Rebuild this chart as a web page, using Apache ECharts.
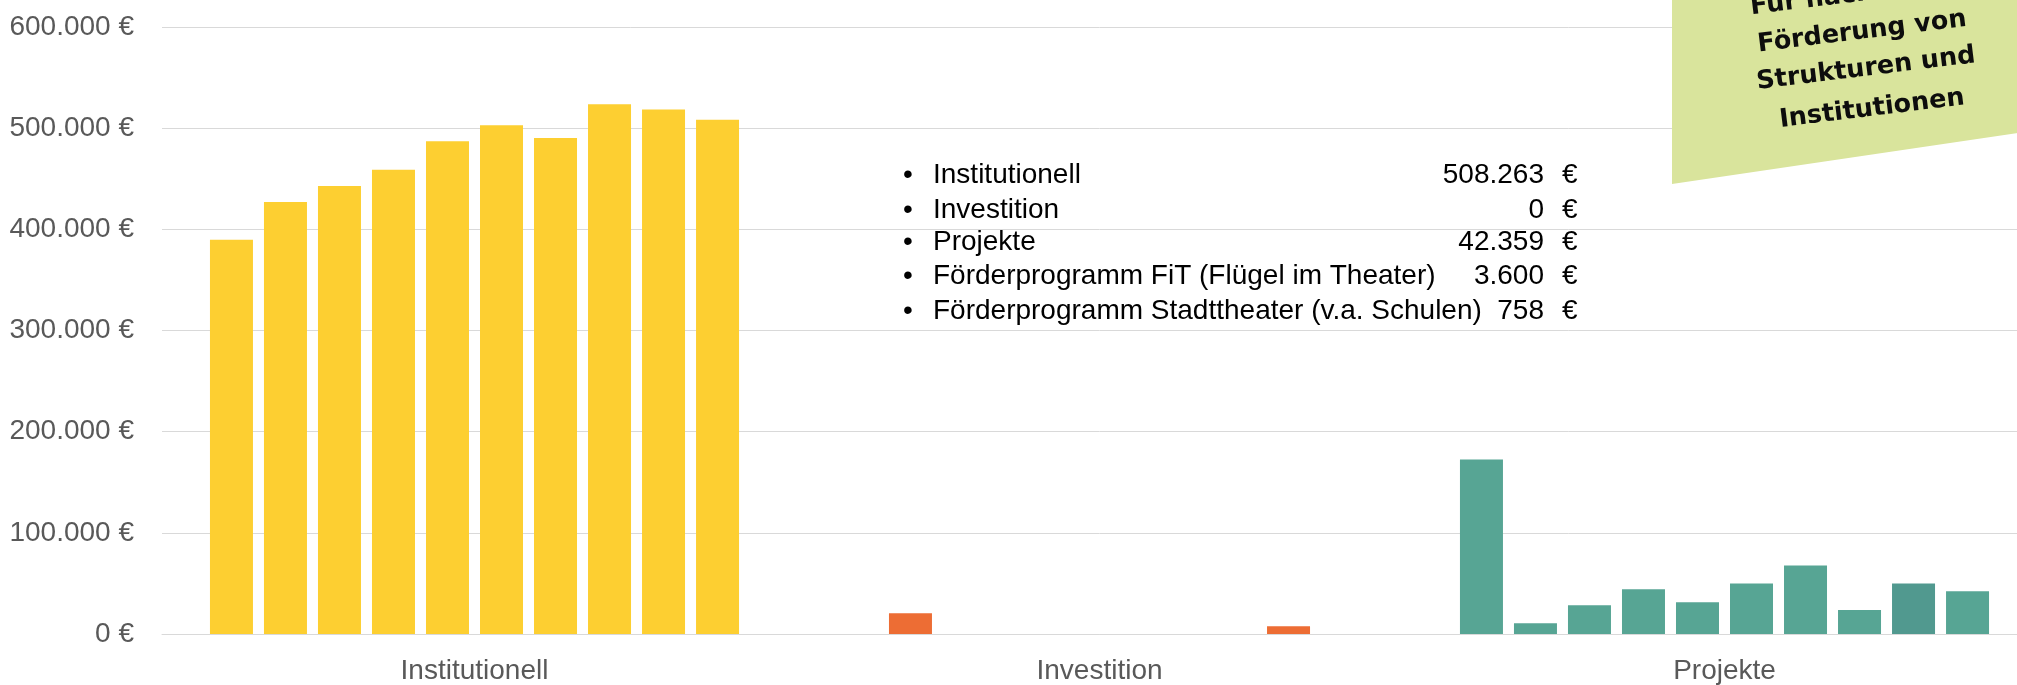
<!DOCTYPE html>
<html>
<head>
<meta charset="utf-8">
<script src="https://cdn.jsdelivr.net/npm/echarts@6/dist/echarts.min.js"></script>
<style>
html,body{margin:0;padding:0;background:#fff;overflow:hidden;}
#chart{width:2045px;height:685px;}
</style>
</head>
<body>
<div id="chart"></div>
<script>
// ---- data ----
const categories = ['Institutionell', 'Investition', 'Projekte'];
const institutionell = [389800, 427100, 442900, 458800, 487100, 503000, 490200, 523700, 518500, 508263];
const investition    = [0, 20600, 0, 0, 0, 0, 0, 0, 7700, 0];
const projekte       = [172500, 10700, 28300, 44200, 31300, 49800, 67800, 23600, 49800, 42359];
const yMin = 0, yMax = 600000, yInterval = 100000;
const infoLabels = ['Institutionell', 'Investition', 'Projekte', 'Förderprogramm FiT (Flügel im Theater)', 'Förderprogramm Stadttheater (v.a. Schulen)'];
const infoValues = ['508.263', '0', '42.359', '3.600', '758'];
const noteLines = ['Für nachhaltige', 'Förderung von', 'Strukturen und', 'Institutionen'];

// ---- styles ----
const FONT = '"Liberation Sans", Arial, sans-serif';
const NOTE_FONT = '"DejaVu Sans", sans-serif';
const YELLOW = '#FDCF31', ORANGE = '#ED6D34', TEAL = '#57A594', TEAL_DARK = '#51998F';
const GRID = '#D9D9D9', LABEL = '#595959';

function fmt(v) {
  return String(v).replace(/\B(?=(\d{3})+(?!\d))/g, '.') + ' €';
}

const series = [];
for (let i = 0; i < institutionell.length; i++) {
  series.push({
    type: 'bar',
    barWidth: 43,
    barGap: '25.6%',
    data: [
      { value: institutionell[i], itemStyle: { color: YELLOW } },
      { value: investition[i], itemStyle: { color: ORANGE } },
      { value: projekte[i], itemStyle: { color: i === 8 ? TEAL_DARK : TEAL } }
    ]
  });
}

const graphic = [];
const rowY = [175, 210, 242, 276, 311];
infoLabels.forEach((t, i) => {
  graphic.push({ type: 'text', x: 903, y: rowY[i], z: 10,
    style: { text: '•', font: '28px ' + FONT, fill: '#000', verticalAlign: 'middle', align: 'left' } });
  graphic.push({ type: 'text', x: 933, y: rowY[i], z: 10,
    style: { text: t, font: '28px ' + FONT, fill: '#000', verticalAlign: 'middle', align: 'left' } });
  graphic.push({ type: 'text', x: 1544, y: rowY[i], z: 10,
    style: { text: infoValues[i], font: '28px ' + FONT, fill: '#000', verticalAlign: 'middle', align: 'right' } });
  graphic.push({ type: 'text', x: 1562, y: rowY[i], z: 10,
    style: { text: '€', font: '28px ' + FONT, fill: '#000', verticalAlign: 'middle', align: 'left' } });
});
graphic.push({ type: 'polygon', z: 20,
  shape: { points: [[1672, 0], [2045, 0], [2045, 129], [1672, 184]] },
  style: { fill: '#D9E49C' } });
const notePos = [[1862, -6], [1862, 32], [1866, 69], [1872, 109]];
noteLines.forEach((t, i) => {
  graphic.push({ type: 'text', x: notePos[i][0], y: notePos[i][1], z: 21,
    rotation: 7 * Math.PI / 180,
    style: { text: t, font: 'bold 25.5px ' + NOTE_FONT, fill: '#0d0d0d',
      align: 'center', verticalAlign: 'middle' } });
});

const chart = echarts.init(document.getElementById('chart'), null, { renderer: 'canvas' });
chart.setOption({
  animation: false,
  backgroundColor: '#fff',
  grid: { left: 162, top: 27, width: 1875, height: 611, containLabel: false },
  xAxis: {
    type: 'category',
    data: categories,
    axisTick: { show: false },
    axisLine: { lineStyle: { color: GRID, width: 1 } },
    axisLabel: { color: LABEL, fontSize: 28, fontFamily: FONT, margin: 23 }
  },
  yAxis: {
    type: 'value',
    min: yMin, max: yMax, interval: yInterval,
    axisLine: { show: false },
    axisTick: { show: false },
    splitLine: { lineStyle: { color: GRID, width: 1 } },
    axisLabel: { color: LABEL, fontSize: 28, fontFamily: FONT, margin: 28, formatter: fmt }
  },
  series: series,
  graphic: graphic
});
</script>
</body>
</html>
